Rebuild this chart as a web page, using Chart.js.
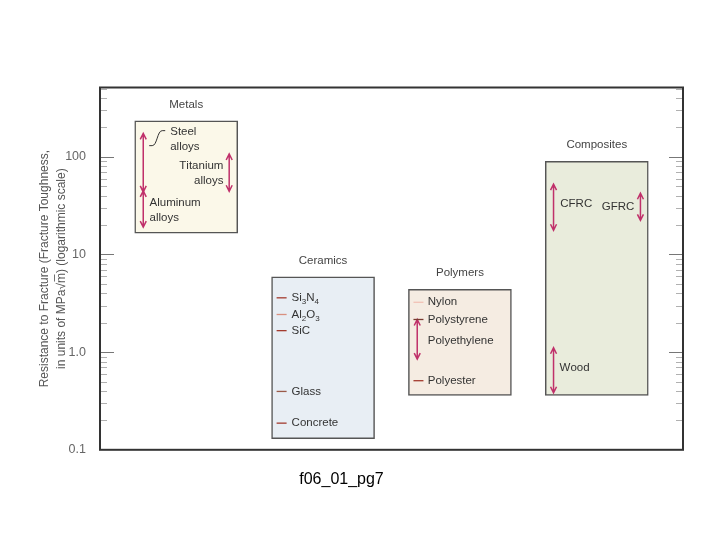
<!DOCTYPE html>
<html>
<head>
  <title>Fracture toughness by material class</title>
  <script src="https://cdn.jsdelivr.net/npm/chart.js"></script>
  <style>
    html, body { margin: 0; padding: 0; background: #fff; }
  </style>
</head>
<body>
  <canvas id="chart" width="720" height="540"></canvas>
  <script>
    // Material classes (floating boxes, MPa*sqrt(m))
    const categories = ['Metals', 'Ceramics', 'Polymers', 'Composites'];
    const lowValues = [16.5, 0.13, 0.36, 0.36];
    const highValues = [234, 5.9, 4.4, 90];

    // Ranges shown as double arrows
    const rangeNames = [['Steel', 'alloys'], ['Titanium', 'alloys'], ['Aluminum', 'alloys'],
                        ['Polyethylene'], ['CFRC'], ['GFRC'], ['Wood']];
    const rangeGroup = [0, 0, 0, 2, 3, 3, 3];
    const rangeLow = [43.7, 44.4, 19.1, 0.85, 17.7, 22.4, 0.384];
    const rangeHigh = [174, 107, 44.8, 2.16, 52.5, 42.4, 1.11];

    // Single materials shown as dashes
    const pointNames = ['Si_3N_4', 'Al_2O_3', 'SiC', 'Glass', 'Concrete', 'Nylon', 'Polystyrene', 'Polyester'];
    const pointGroup = [1, 1, 1, 1, 1, 2, 2, 2];
    const pointValues = [3.6, 2.43, 1.66, 0.396, 0.1875, 3.24, 2.16, 0.51];

    // y axis labels
    const tickValues = [0.1, 1, 10, 100];
    const tickLabels = ['0.1', '1.0', '10', '100'];

    // layout / styling (offsets in category units)
    const FONT = '"Liberation Sans", Arial, Helvetica, sans-serif';
    const boxFill = ['#fbf8e9', '#e8eef4', '#f5ece2', '#e9ecdc'];
    const arrowDx = [-0.314, 0.314, -0.314, -0.312, -0.316, 0.319, -0.316];
    const rangeLabel = [
      { dx: -0.117, at: 150, align: 'left' },
      { dx: 0.272, at: 67.5, align: 'right' },
      { dx: -0.268, at: 28.4, align: 'left' },
      { dx: -0.235, at: 1.31, align: 'left' },
      { dx: -0.267, at: 32.7, align: 'left' },
      { dx: 0.275, at: 30.7, align: 'right' },
      { dx: -0.272, at: 0.698, align: 'left' }
    ];
    const dashDx = -0.303;
    const pointTextDx = [-0.23, -0.23, -0.23, -0.23, -0.23, -0.235, -0.235, -0.235];
    const pointColor = ['#a33b2e', '#d9907f', '#a33b2e', '#9a5a48', '#a33b2e', '#f2c2b5', '#7a3a30', '#a33b2e'];
    const arrowColor = '#c0306a';

    function drawRich(ctx, str, x, y, align) {
      // "_" marks the next char as a subscript
      const parts = [];
      for (let i = 0; i < str.length; i++) {
        if (str[i] === '_') { parts.push({ t: str[i + 1], sub: true }); i++; }
        else parts.push({ t: str[i], sub: false });
      }
      const big = '11.5px ' + FONT, small = '8px ' + FONT;
      let w = 0;
      parts.forEach(p => { ctx.font = p.sub ? small : big; p.w = ctx.measureText(p.t).width; w += p.w; });
      let cx = align === 'right' ? x - w : x;
      ctx.textAlign = 'left';
      ctx.textBaseline = 'middle';
      parts.forEach(p => {
        ctx.font = p.sub ? small : big;
        ctx.fillText(p.t, cx, p.sub ? y + 4 : y);
        cx += p.w;
      });
    }

    function drawArrow(ctx, x, y1, y2) {
      ctx.beginPath();
      ctx.moveTo(x, y1); ctx.lineTo(x, y2);
      ctx.moveTo(x - 3, y1 + 6); ctx.lineTo(x, y1); ctx.lineTo(x + 3, y1 + 6);
      ctx.moveTo(x - 3, y2 - 6); ctx.lineTo(x, y2); ctx.lineTo(x + 3, y2 - 6);
      ctx.stroke();
    }

    const overlay = {
      id: 'overlay',
      afterDatasetsDraw(chart) {
        const { ctx, chartArea: a, scales: { x, y } } = chart;
        ctx.save();

        // inward ticks on both vertical sides
        y.ticks.forEach(t => {
          const v = t.value;
          const e = Math.floor(Math.log10(v) + 1e-9);
          const m = v / Math.pow(10, e);
          if (Math.abs(m - Math.round(m)) > 1e-6 || v <= y.min * 1.001) return;
          const py = Math.round(y.getPixelForValue(v)) + 0.5;
          const major = Math.round(m) === 1;
          const len = major ? 14 : 7;
          ctx.strokeStyle = major ? '#777' : '#b0b0b0';
          ctx.lineWidth = 1;
          ctx.beginPath();
          ctx.moveTo(a.left, py); ctx.lineTo(a.left + len, py);
          ctx.moveTo(a.right, py); ctx.lineTo(a.right - len, py);
          ctx.stroke();
        });

        // category titles above boxes
        const meta = chart.getDatasetMeta(0);
        ctx.fillStyle = '#444';
        ctx.font = '11.5px ' + FONT;
        ctx.textAlign = 'center';
        ctx.textBaseline = 'middle';
        categories.forEach((c, i) => {
          ctx.fillText(c, meta.data[i].x, y.getPixelForValue(highValues[i]) - 16);
        });

        // range arrows and their labels
        ctx.strokeStyle = arrowColor;
        ctx.lineWidth = 1.5;
        rangeGroup.forEach((g, i) => {
          const px = x.getPixelForValue(g + 1 + arrowDx[i]);
          drawArrow(ctx, px, y.getPixelForValue(rangeHigh[i]), y.getPixelForValue(rangeLow[i]));
        });
        ctx.fillStyle = '#333';
        rangeGroup.forEach((g, i) => {
          const L = rangeLabel[i];
          const px = x.getPixelForValue(g + 1 + L.dx);
          const lines = rangeNames[i];
          const mid = y.getPixelForValue(L.at);
          lines.forEach((s, k) => {
            drawRich(ctx, s, px, mid + (k - (lines.length - 1) / 2) * 15, L.align);
          });
          if (i === 0) {
            // little connector next to "Steel"
            const x0 = px - 21, y0 = mid + 6, y1 = mid - 9;
            ctx.strokeStyle = '#333';
            ctx.lineWidth = 1;
            ctx.beginPath();
            ctx.moveTo(x0, y0); ctx.lineTo(x0 + 3, y0);
            ctx.bezierCurveTo(x0 + 8, y0, x0 + 8, y1, x0 + 13, y1);
            ctx.lineTo(x0 + 16, y1);
            ctx.stroke();
          }
        });

        // single-material dashes
        pointGroup.forEach((g, i) => {
          const px = x.getPixelForValue(g + 1 + dashDx);
          const py = y.getPixelForValue(pointValues[i]);
          ctx.strokeStyle = pointColor[i];
          ctx.lineWidth = 1.3;
          ctx.beginPath();
          ctx.moveTo(px - 5, py); ctx.lineTo(px + 5, py);
          ctx.stroke();
          ctx.fillStyle = '#333';
          drawRich(ctx, pointNames[i], x.getPixelForValue(g + 1 + pointTextDx[i]), py, 'left');
        });

        // frame
        ctx.strokeStyle = '#333';
        ctx.lineWidth = 2;
        ctx.strokeRect(a.left, a.top, a.right - a.left, a.bottom - a.top);
        ctx.restore();
      }
    };

    new Chart(document.getElementById('chart'), {
      type: 'bar',
      data: {
        datasets: [{
          data: categories.map((c, i) => ({ x: i + 1, y: [lowValues[i], highValues[i]] })),
          backgroundColor: boxFill,
          borderColor: '#555',
          borderWidth: 1.5,
          borderSkipped: false,
          barThickness: 103
        }]
      },
      options: {
        responsive: false,
        animation: false,
        layout: { padding: { top: 87.5, right: 37, bottom: 51, left: 0 } },
        scales: {
          x: { type: 'linear', min: 0.37, max: 4.63, offset: false, display: false },
          y: {
            type: 'logarithmic',
            min: 0.1,
            max: 513,
            grid: { display: false },
            border: { display: false },
            afterFit(scale) { scale.width = 100; },
            ticks: {
              autoSkip: false,
              padding: 6,
              color: '#666',
              font: { family: FONT, size: 12.5 },
              callback(v) {
                const i = tickValues.findIndex(t => Math.abs(t - v) < t * 1e-6);
                return i >= 0 ? tickLabels[i] : '';
              }
            },
            title: {
              display: true,
              text: ['Resistance to Fracture (Fracture Toughness,', 'in units of MPa\u221Am\u0305) (logarithmic scale)'],
              color: '#555',
              font: { family: FONT, size: 12, lineHeight: 1.35 },
              padding: { top: 37, bottom: 0 }
            }
          }
        },
        plugins: {
          legend: { display: false },
          tooltip: { enabled: false },
          title: {
            display: true,
            position: 'bottom',
            text: 'f06_01_pg7',
            color: '#000',
            font: { family: FONT, size: 16, weight: 'normal' },
            padding: { top: 20, bottom: 0 }
          }
        }
      },
      plugins: [overlay]
    });
  </script>
</body>
</html>
